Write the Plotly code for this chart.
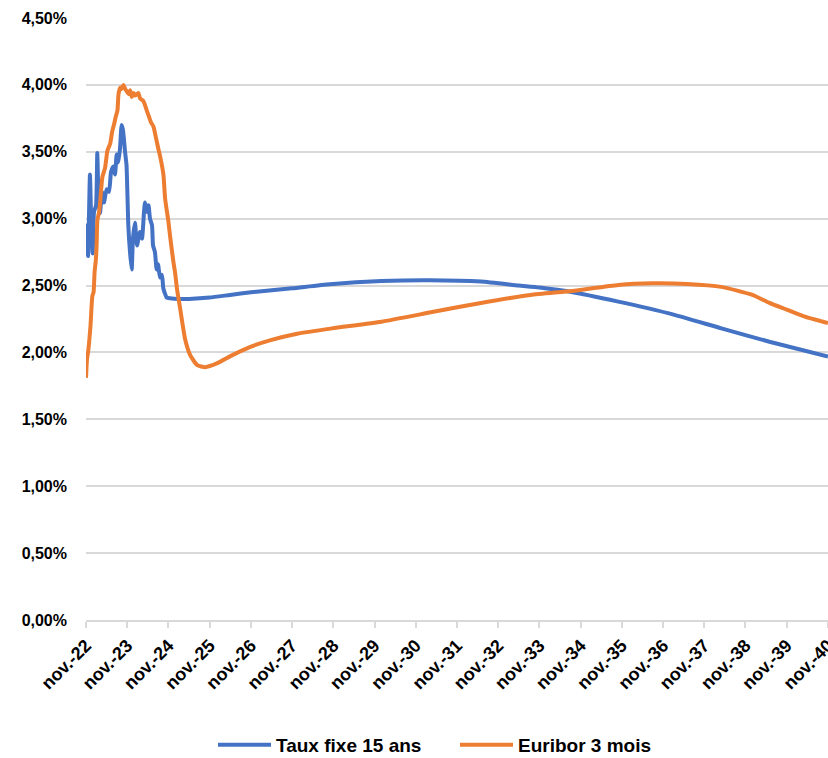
import plotly.graph_objects as go

# Taux fixe 15 ans (blue)
blue_dates = [
    "2022-11-01", "2022-11-10", "2022-11-19", "2022-12-06", "2022-12-15", "2022-12-30",
    "2023-01-11", "2023-01-29", "2023-02-09", "2023-02-20", "2023-03-05", "2023-03-23",
    "2023-04-09", "2023-05-03", "2023-05-24", "2023-06-11", "2023-07-01", "2023-07-16",
    "2023-07-31", "2023-08-14", "2023-08-29", "2023-09-13", "2023-09-25", "2023-10-13",
    "2023-10-26", "2023-11-11", "2023-11-26", "2023-12-11", "2023-12-22", "2024-01-09",
    "2024-01-27", "2024-02-22", "2024-03-11", "2024-03-29", "2024-04-07", "2024-04-24",
    "2024-05-08", "2024-05-21", "2024-06-08", "2024-06-17", "2024-07-04", "2024-07-19",
    "2024-07-31", "2024-08-18", "2024-09-04", "2024-09-16", "2024-10-01", "2024-10-16",
    "2024-11-14", "2025-02-15", "2025-05-01", "2025-11-01", "2026-05-01", "2026-11-01",
    "2027-11-01", "2028-10-01", "2030-01-01", "2031-03-01", "2032-06-01", "2033-05-01",
    "2033-11-01", "2034-08-01", "2035-10-01", "2037-01-01", "2038-04-01", "2039-06-01",
    "2040-11-01",
]
blue_values = [
    2.75, 2.95, 2.72, 3.33, 3.05, 2.74,
    3.05, 3.10, 3.49, 3.15, 3.04, 3.20,
    3.12, 3.22, 3.20, 3.35, 3.39, 3.33,
    3.48, 3.42, 3.52, 3.70, 3.66, 3.50,
    3.40, 2.95, 2.75, 2.62, 2.85, 2.97,
    2.80, 2.90, 2.85, 3.05, 3.12, 3.05,
    3.10, 3.00, 2.95, 2.80, 2.75, 2.62,
    2.66, 2.56, 2.58, 2.48, 2.44, 2.41,
    2.405, 2.40, 2.40, 2.41, 2.43, 2.45,
    2.48, 2.51, 2.534, 2.54, 2.53, 2.50,
    2.485, 2.454, 2.38, 2.29, 2.18, 2.08,
    1.97,
]

# Euribor 3 mois (orange)
orange_dates = [
    "2022-11-01", "2022-11-10", "2022-11-19", "2022-11-28", "2022-12-11", "2022-12-27",
    "2023-01-07", "2023-01-16", "2023-01-27", "2023-02-03", "2023-02-10", "2023-02-25",
    "2023-03-06", "2023-03-26", "2023-04-19", "2023-05-10", "2023-06-03", "2023-06-21",
    "2023-07-09", "2023-07-22", "2023-08-07", "2023-08-16", "2023-08-31", "2023-09-13",
    "2023-09-29", "2023-10-14", "2023-10-29", "2023-11-14", "2023-11-27", "2023-12-12",
    "2023-12-28", "2024-01-10", "2024-02-08", "2024-02-23", "2024-03-23", "2024-04-22",
    "2024-05-13", "2024-05-30", "2024-06-20", "2024-07-14", "2024-08-01", "2024-08-18",
    "2024-09-17", "2024-10-02", "2024-10-31", "2024-11-15", "2024-12-14", "2024-12-29",
    "2025-01-16", "2025-02-12", "2025-03-28", "2025-05-12", "2025-07-14", "2025-09-23",
    "2026-01-08", "2026-05-21", "2026-10-22", "2027-04-18", "2027-12-16", "2028-10-20",
    "2030-01-01", "2031-03-15", "2032-06-01", "2033-08-15", "2034-08-20", "2035-10-01",
    "2036-08-01", "2037-06-01", "2038-04-01", "2039-01-01", "2039-06-01", "2039-11-01",
    "2040-04-01", "2040-11-01",
]
orange_values = [
    1.81, 1.95, 2.00, 2.07, 2.20, 2.42,
    2.45, 2.60, 2.69, 2.80, 2.99, 3.05,
    3.12, 3.31, 3.38, 3.51, 3.56, 3.65,
    3.71, 3.76, 3.81, 3.93, 3.98, 3.97,
    4.00, 3.97, 3.95, 3.93, 3.96, 3.91,
    3.94, 3.92, 3.94, 3.90, 3.88, 3.81,
    3.76, 3.72, 3.69, 3.60, 3.53, 3.47,
    3.33, 3.15, 2.98, 2.87, 2.68, 2.60,
    2.47, 2.33, 2.10, 1.98, 1.905, 1.89,
    1.92, 1.98, 2.04, 2.09, 2.14, 2.18,
    2.23, 2.30, 2.37, 2.43, 2.46, 2.505,
    2.517, 2.512, 2.49, 2.43, 2.37, 2.32,
    2.27, 2.22,
]

tick_dates = [f"{y}-11-01" for y in range(2022, 2041)]
tick_labels = [f"nov.-{y % 100:02d}" for y in range(2022, 2041)]
y_ticks = [0, 0.005, 0.01, 0.015, 0.02, 0.025, 0.03, 0.035, 0.04, 0.045]

fig = go.Figure()
fig.add_trace(go.Scatter(
    x=blue_dates, y=[v / 100 for v in blue_values], mode="lines",
    name="Taux fixe 15 ans",
    line=dict(color="#4472C4", width=4, shape="spline", smoothing=0.5),
))
fig.add_trace(go.Scatter(
    x=orange_dates, y=[v / 100 for v in orange_values], mode="lines",
    name="Euribor 3 mois",
    line=dict(color="#ED7D31", width=4, shape="spline", smoothing=0.5),
))

fig.update_layout(
    width=828, height=758,
    margin=dict(l=86, r=0, t=18, b=138, autoexpand=False),
    paper_bgcolor="white", plot_bgcolor="white",
    separators=", ",
    font=dict(family="Liberation Sans, Arial, sans-serif", size=16, color="#000000", weight="bold"),
    showlegend=True,
    legend=dict(orientation="h", x=(213 - 86) / 742, xanchor="left", y=-0.2076, yanchor="middle",
                font=dict(size=19, weight="bold"), itemwidth=53,
                entrywidth=174, entrywidthmode="pixels"),
    xaxis=dict(
        type="date", range=["2022-11-01", "2040-11-01 06:00"],
        tickvals=tick_dates, ticktext=tick_labels, tickangle=-45,
        ticklabeloverflow="allow",
        showgrid=False, zeroline=False,
        showline=True, linecolor="#D9D9D9", linewidth=2,
        ticks="outside", ticklen=6, tickcolor="#D9D9D9", tickwidth=2,
        tickfont=dict(size=18, weight="bold"),
    ),
    yaxis=dict(
        range=[0, 0.045], tickvals=y_ticks, tickformat=".2%",
        showgrid=True, gridcolor="#D9D9D9", gridwidth=1.5,
        zeroline=False, showline=False, ticks="",
        ticklabelstandoff=18,
        tickfont=dict(size=16, weight="bold"),
    ),
)

fig.write_html(
    "out.html",
    config={"displayModeBar": False},
    post_script="document.body.style.margin='0';document.body.style.overflow='hidden';",
)
